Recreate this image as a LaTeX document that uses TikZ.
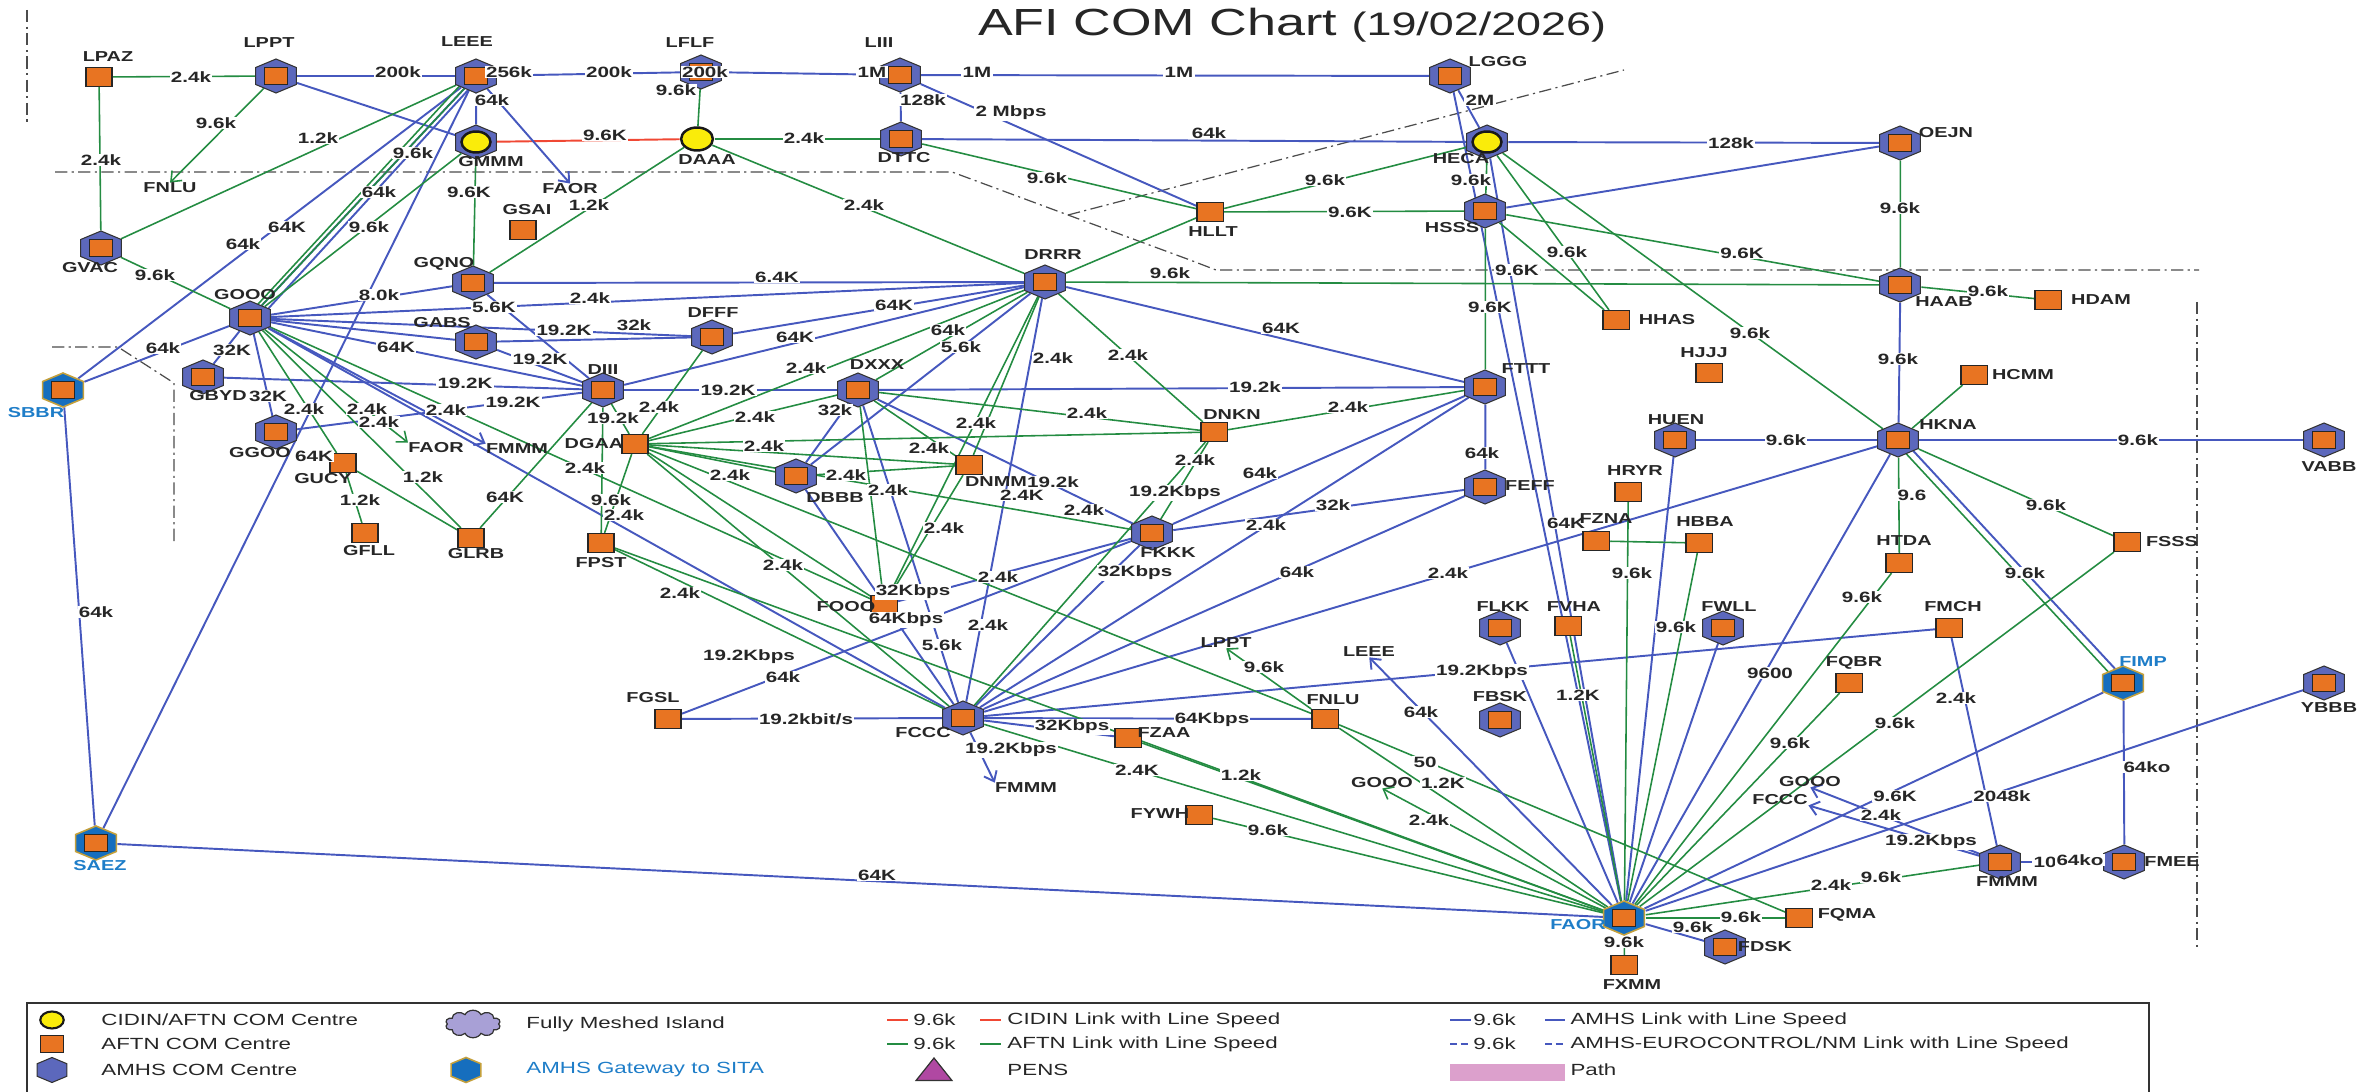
\documentclass[tikz,border=0pt]{standalone}
\usepackage{fontspec}
\setmainfont{Liberation Sans}
\usetikzlibrary{shapes.geometric,shapes.symbols,arrows.meta}

\definecolor{amhsblue}{RGB}{70,88,190}
\definecolor{aftngreen}{RGB}{36,140,66}
\definecolor{cidinred}{RGB}{240,72,52}
\definecolor{hexfill}{RGB}{92,104,188}
\definecolor{sqfill}{RGB}{232,116,34}
\definecolor{gwfill}{RGB}{22,110,190}
\definecolor{gwedge}{RGB}{196,160,60}
\definecolor{gwtext}{RGB}{30,125,200}
\definecolor{cidyellow}{RGB}{250,236,10}
\definecolor{penfill}{RGB}{176,72,162}
\definecolor{pathpink}{RGB}{220,160,204}
\definecolor{cloudfill}{RGB}{168,160,214}

\pgfdeclarelayer{bg}
\pgfsetlayers{bg,main}

% line speed labels get their own names
\newcounter{spdn}
\newcommand\spd[2]{\stepcounter{spdn}\node[spdlbl] (spd\arabic{spdn}) at (#1) {#2};}
% com centres
\newcommand\amhsc[2]{\node[hexc] (#1) at (#2) {};\node[insq] (#1-sq) at (#2) {};}
\newcommand\gwc[2]{\node[gwhex] (#1) at (#2) {};\node[insq] (#1-sq) at (#2) {};}
\newcommand\aftnc[2]{\node[sqc] (#1) at (#2) {};}
\newcommand\cidc[2]{\node[cidcirc] (#1) at (#2) {};}
\newcommand\cidhex[2]{\node[hexc] (#1) at (#2) {};\node[cidcirc,minimum size=0.42cm] (#1-ci) at (#2) {};}
\newcommand\ctrname[3][black!85]{\node[stname,text=#1] (t#2) at (#3) {#2};}

\begin{document}
\begin{tikzpicture}[x=0.0145cm, y=-0.02cm, xscale=1.38, transform shape,
  hexc/.style={regular polygon, regular polygon sides=6, shape border rotate=30,
    minimum size=0.68cm, inner sep=0pt, fill=hexfill, draw=black!80, line width=0.6pt},
  gwhex/.style={hexc, fill=gwfill, draw=gwedge, line width=0.9pt},
  insq/.style={rectangle, minimum size=0.34cm, inner sep=0pt, fill=sqfill, draw=black!85, line width=0.7pt},
  sqc/.style={rectangle, minimum size=0.38cm, inner sep=0pt, fill=sqfill, draw=black!85, line width=0.7pt},
  cidcirc/.style={circle, minimum size=0.46cm, inner sep=0pt, fill=cidyellow, draw=black!90, line width=1.4pt},
  amhsl/.style={amhsblue, line width=1.1pt},
  aftnl/.style={aftngreen, line width=0.9pt},
  cidinl/.style={cidinred, line width=1.1pt},
  spdarrow/.style={-{Straight Barb[length=5pt,width=8pt]}},
  bnd/.style={black!70, line width=0.7pt, dash pattern=on 7pt off 2.5pt on 1.2pt off 2.5pt},
  spdlbl/.style={font=\fontsize{8.5}{9}\selectfont\bfseries, text=black!85, fill=white, inner sep=0.5pt},
  stname/.style={font=\fontsize{8.2}{9}\selectfont\bfseries, inner sep=0pt},
  lgtxt/.style={anchor=west, font=\fontsize{9.2}{11}\selectfont, text=black!85, inner sep=0pt}]
		%%%%% START %%%%%
		\useasboundingbox (0,0) rectangle (2374,1092);
		
		\node[font=\fontsize{21.5}{24}\selectfont, text=black!85, inner sep=0pt] (title) at (1292,25)
		  {AFI COM Chart {\fontsize{18.5}{20}\selectfont(19/02/2026)}};
		
		% top row
		\aftnc{LPAZ}{99,77} \amhsc{LPPT}{276,76} \amhsc{LEEE}{476,76} \amhsc{LFLF}{701,72}
		\amhsc{LIII}{900,75} \amhsc{LGGG}{1450,76}
		\cidhex{GMMM}{476,142} \cidc{DAAA}{697,139} \amhsc{DTTC}{901,139}
		\cidhex{HECA}{1487,142} \amhsc{OEJN}{1900,143}
		
		% west
		\aftnc{GSAI}{523,230} \amhsc{GVAC}{101,248} \amhsc{GQNO}{473,283} \amhsc{GOOO}{250,318}
		\amhsc{GABS}{476,342} \amhsc{GBYD}{203,377} \gwc{SBBR}{63,390} \amhsc{GGOO}{276,432}
		\aftnc{GUCY}{343,463} \aftnc{GFLL}{365,533} \aftnc{GLRB}{471,538} \gwc{SAEZ}{96,843}
		
		% centre
		\amhsc{DRRR}{1045,282} \amhsc{DFFF}{712,337} \amhsc{DIII}{603,390} \amhsc{DXXX}{858,390}
		\aftnc{DGAA}{635,444} \aftnc{DNMM}{969,465} \amhsc{DBBB}{796,476} \aftnc{DNKN}{1214,432}
		\aftnc{FPST}{601,543} \amhsc{FKKK}{1152,533} \aftnc{FOOO}{884,605} \aftnc{FGSL}{668,719}
		\amhsc{FCCC}{963,718} \aftnc{FZAA}{1128,738} \aftnc{FYWH}{1199,815}
		
		% east
		\aftnc{HLLT}{1210,212} \amhsc{HSSS}{1485,211} \amhsc{HAAB}{1900,285} \aftnc{HDAM}{2048,300}
		\aftnc{HHAS}{1616,320} \aftnc{HJJJ}{1709,373} \aftnc{HCMM}{1974,375} \amhsc{FTTT}{1485,387}
		\amhsc{HUEN}{1675,440} \amhsc{HKNA}{1898,440} \amhsc{VABB}{2324,440} \amhsc{FEFF}{1485,487}
		\aftnc{HRYR}{1628,492} \aftnc{FZNA}{1596,541} \aftnc{HBBA}{1699,543} \aftnc{FSSS}{2127,542}
		\aftnc{HTDA}{1899,563} \amhsc{FLKK}{1500,628} \aftnc{FVHA}{1568,626} \amhsc{FWLL}{1723,628}
		\aftnc{FMCH}{1949,628} \aftnc{FQBR}{1849,683} \gwc{FIMP}{2123,683} \amhsc{YBBB}{2324,683}
		\aftnc{FNLU}{1325,719} \amhsc{FBSK}{1500,720} \amhsc{FMMM}{2000,862} \amhsc{FMEE}{2124,862}
		\gwc{FAOR}{1624,918} \aftnc{FQMA}{1799,918} \amhsc{FDSK}{1725,947} \aftnc{FXMM}{1624,965}
		
		% arrow targets
		\node[stname,text=black!85] (aFNLU) at (170,188) {FNLU};
		\node[stname,text=black!85] (aFAORa) at (570,189) {FAOR};
		\node[stname,text=black!85] (aFAORb) at (436,448) {FAOR};
		\node[stname,text=black!85] (aFMMMa) at (517,449) {FMMM};
		\node[stname,text=black!85] (aLPPT) at (1226,643) {LPPT};
		\node[stname,text=black!85] (aLEEE) at (1369,652) {LEEE};
		\node[stname,text=black!85] (aFMMMb) at (1026,788) {FMMM};
		\node[stname,text=black!85] (aGOOOa) at (1382,783) {GOOO};
		\node[stname,text=black!85] (aGOOOb) at (1810,782) {GOOO};
		\node[stname,text=black!85] (aFCCC) at (1780,800) {FCCC};
		
		\begin{pgfonlayer}{bg}
		% region boundaries
		\draw[bnd] (27,10) -- (27,123);
		\draw[bnd] (55,172) -- (952,172) -- (1068,215) -- (1190,260) -- (1216,270) -- (2199,270);
		\draw[bnd] (1068,215) -- (1624,70);
		\draw[bnd] (2197,302) -- (2197,950);
		\draw[bnd] (52,347) -- (118,347) -- (174,383) -- (174,543);
		
		% AMHS links
		\foreach \a/\b in {LPPT/LEEE, LEEE/LFLF, LFLF/LIII, LIII/LGGG, LIII/DTTC, LIII/HLLT,
		  LPPT/GMMM, LEEE/GMMM, DTTC/HECA, HECA/OEJN, HSSS/OEJN, LGGG/HECA, LGGG/FAOR, HECA/FAOR,
		  LEEE/SBBR, LEEE/GOOO, LEEE/SAEZ, GOOO/SBBR, GOOO/GBYD, GOOO/GQNO, GOOO/DRRR, GOOO/DIII,
		  GOOO/GABS, GOOO/GGOO, GOOO/FCCC, GOOO/DFFF, GBYD/DIII, GGOO/DIII, GQNO/DRRR, GQNO/DIII,
		  GABS/DIII, GABS/DFFF, DRRR/DFFF, DRRR/DIII, DRRR/DBBB, DRRR/FCCC, DRRR/FTTT, DIII/DXXX,
		  DXXX/FTTT, DXXX/FKKK, DXXX/FCCC, DXXX/DBBB, DBBB/FCCC, FGSL/FKKK, FGSL/FCCC, FKKK/FCCC,
		  FKKK/FEFF, FKKK/FTTT, FKKK/FOOO, FCCC/FEFF, FCCC/FTTT, FCCC/HKNA, FCCC/FMCH, FCCC/FNLU,
		  FCCC/FZAA, FTTT/FEFF, HUEN/HKNA, HUEN/FAOR, HKNA/VABB, HKNA/HAAB, HKNA/FAOR, FLKK/FAOR,
		  FWLL/FAOR, FAOR/FIMP, FAOR/YBBB, FAOR/FDSK, SAEZ/FAOR, SBBR/SAEZ, FMCH/FMMM, FMMM/FMEE,
		  FIMP/FMEE}
		  \draw[amhsl] (\a) -- (\b);
		\draw[amhsl] ([xshift=2pt]LEEE.center) -- ([xshift=4pt]GOOO.center);
		\draw[amhsl] ([xshift=2pt]HKNA.center) -- ([xshift=2pt]FIMP.center);
		
		% AFTN links
		\foreach \a/\b in {LPAZ/LPPT, LPAZ/GVAC, LFLF/DAAA, DAAA/DTTC, DAAA/DRRR, DAAA/GQNO,
		  GMMM/GQNO, LEEE/GVAC, LEEE/GOOO, GMMM/GOOO, GVAC/GOOO, DTTC/HLLT, DRRR/HLLT, HLLT/HECA,
		  HLLT/HSSS, HECA/HSSS, HSSS/HAAB, HECA/HKNA, HECA/HHAS, HSSS/HHAS, HSSS/FTTT, DRRR/HAAB,
		  OEJN/HAAB, HAAB/HDAM, HKNA/HCMM, HKNA/HTDA, HKNA/FSSS, HTDA/FAOR, FSSS/FAOR, FQBR/FAOR,
		  HRYR/FAOR, FZNA/HBBA, HBBA/FAOR, FVHA/FAOR, FAOR/FXMM, FAOR/FQMA, FAOR/FMMM, FNLU/FAOR,
		  FNLU/FQMA, FYWH/FAOR, FCCC/FAOR, FPST/FAOR, FPST/FCCC, FZAA/FAOR, GOOO/GUCY, GOOO/GLRB,
		  GOOO/FOOO, GUCY/GFLL, GUCY/GLRB, DIII/GLRB, DIII/DGAA, DFFF/DGAA, DRRR/DGAA, DXXX/DGAA,
		  DGAA/DNKN, DGAA/DBBB, DGAA/DNMM, DGAA/FPST, DIII/FPST, DGAA/FOOO, DGAA/FCCC, DGAA/FKKK,
		  DGAA/FNLU, DXXX/DNKN, DRRR/DNMM, DXXX/DNMM, DBBB/DNMM, DXXX/FOOO, DNKN/FTTT, DNKN/FCCC,
		  DNKN/FKKK, DNMM/FOOO, DRRR/DXXX, DRRR/FOOO, DRRR/DNKN}
		  \draw[aftnl] (\a) -- (\b);
		\draw[aftnl] ([xshift=-3pt]LEEE.center) -- ([xshift=-2pt]GOOO.center);
		\draw[aftnl] ([xshift=-2pt]HKNA.center) -- ([xshift=-2pt]FIMP.center);
		
		% CIDIN link
		\draw[cidinl] (GMMM) -- (DAAA);
		
		% one way links
		\draw[aftnl,spdarrow] (LPPT) -- (aFNLU.north);
		\draw[amhsl,spdarrow] (LEEE) -- (aFAORa.north);
		\draw[aftnl,spdarrow] (GOOO) -- (aFAORb.north west);
		\draw[amhsl,spdarrow] (GOOO) -- (aFMMMa.north west);
		\draw[aftnl,spdarrow] (FNLU) -- (aLPPT.south);
		\draw[amhsl,spdarrow] (FAOR) -- (aLEEE.south);
		\draw[amhsl,spdarrow] (FCCC) -- (aFMMMb.north west);
		\draw[aftnl,spdarrow] (FAOR) -- (aGOOOa.south);
		\draw[amhsl,spdarrow] (FMMM) -- (aGOOOb.south);
		\draw[amhsl,spdarrow] (FMMM) -- (aFCCC.south east);
		\end{pgfonlayer}
		
		% line speeds, AMHS
		\spd{398,72}{200k} \spd{509,72}{256k} \spd{609,72}{200k} \spd{705,72}{200k}
		\spd{872,72}{1M} \spd{977,72}{1M} \spd{1179,72}{1M} \spd{923,100}{128k}
		\spd{1011,113}{2 Mbps} \spd{492,100}{64k} \spd{1209,133}{64k} \spd{1731,143}{128k}
		\spd{1480,100}{2M} \spd{287,227}{64K} \spd{243,244}{64k} \spd{379,192}{64k}
		\spd{314,456}{64K} \spd{163,348}{64k} \spd{232,350}{32K} \spd{379,295}{8.0k}
		\spd{590,298}{2.4k} \spd{396,347}{64K} \spd{446,410}{2.4k} \spd{465,383}{19.2K}
		\spd{268,396}{32K} \spd{379,422}{2.4k} \spd{513,402}{19.2K} \spd{777,277}{6.4K}
		\spd{494,307}{5.6K} \spd{564,330}{19.2K} \spd{634,325}{32k} \spd{540,359}{19.2K}
		\spd{894,305}{64K} \spd{795,337}{64K} \spd{961,347}{5.6k} \spd{1053,358}{2.4k}
		\spd{988,625}{2.4k} \spd{1281,328}{64K} \spd{728,390}{19.2K} \spd{1255,387}{19.2k}
		\spd{1053,482}{19.2k} \spd{942,645}{5.6k} \spd{835,410}{32k} \spd{783,677}{64k}
		\spd{749,657}{19.2Kbps} \spd{906,620}{64Kbps} \spd{806,719}{19.2kbit/s} \spd{1135,573}{32Kbps}
		\spd{1333,505}{32k} \spd{1260,473}{64k} \spd{913,592}{32Kbps} \spd{998,577}{2.4k}
		\spd{1297,572}{64k} \spd{1266,525}{2.4k} \spd{1448,573}{2.4k} \spd{1566,523}{64K}
		\spd{1482,672}{19.2Kbps} \spd{1212,720}{64Kbps} \spd{1072,727}{32Kbps} \spd{1011,750}{19.2Kbps}
		\spd{1482,453}{64k} \spd{1786,440}{9.6k} \spd{2138,440}{9.6k} \spd{1898,359}{9.6k}
		\spd{1770,673}{9600} \spd{1421,712}{64k} \spd{1895,796}{9.6K} \spd{2002,796}{2048k}
		\spd{1693,927}{9.6k} \spd{877,875}{64K} \spd{96,612}{64k} \spd{1956,698}{2.4k}
		\spd{1881,815}{2.4k} \spd{1931,842}{19.2Kbps} \spd{2045,862}{10} \spd{2080,860}{64ko}
		\spd{2147,767}{64ko}
		
		% line speeds, AFTN and CIDIN
		\spd{191,77}{2.4k} \spd{101,160}{2.4k} \spd{216,123}{9.6k} \spd{676,90}{9.6k}
		\spd{804,138}{2.4k} \spd{864,205}{2.4k} \spd{589,205}{1.2k} \spd{469,192}{9.6K}
		\spd{318,138}{1.2k} \spd{413,153}{9.6k} \spd{369,227}{9.6k} \spd{155,275}{9.6k}
		\spd{1047,178}{9.6k} \spd{1325,180}{9.6k} \spd{1350,212}{9.6K} \spd{1471,180}{9.6k}
		\spd{1742,253}{9.6K} \spd{1750,333}{9.6k} \spd{1567,252}{9.6k} \spd{1490,307}{9.6K}
		\spd{1170,273}{9.6k} \spd{1517,270}{9.6K} \spd{1900,208}{9.6k} \spd{1988,291}{9.6k}
		\spd{1912,495}{9.6} \spd{2046,505}{9.6k} \spd{2025,573}{9.6k} \spd{1862,597}{9.6k}
		\spd{1895,723}{9.6k} \spd{1790,743}{9.6k} \spd{1632,573}{9.6k} \spd{1676,627}{9.6k}
		\spd{1578,695}{1.2K} \spd{1624,942}{9.6k} \spd{1741,917}{9.6k} \spd{1831,885}{2.4k}
		\spd{1881,877}{9.6k} \spd{1443,783}{1.2K} \spd{1425,762}{50} \spd{1264,667}{9.6k}
		\spd{1429,820}{2.4k} \spd{1268,830}{9.6k} \spd{1137,770}{2.4K} \spd{1241,775}{1.2k}
		\spd{680,593}{2.4k} \spd{304,409}{2.4k} \spd{367,409}{2.4k} \spd{423,477}{1.2k}
		\spd{585,468}{2.4k} \spd{783,565}{2.4k} \spd{360,500}{1.2k} \spd{505,497}{64K}
		\spd{613,418}{19.2k} \spd{659,407}{2.4k} \spd{806,368}{2.4k} \spd{755,417}{2.4k}
		\spd{764,446}{2.4k} \spd{730,475}{2.4k} \spd{929,448}{2.4k} \spd{1087,413}{2.4k}
		\spd{976,423}{2.4k} \spd{846,475}{2.4k} \spd{888,490}{2.4k} \spd{611,500}{9.6k}
		\spd{624,515}{2.4k} \spd{944,528}{2.4k} \spd{1022,495}{2.4K} \spd{1084,510}{2.4k}
		\spd{1348,407}{2.4k} \spd{1195,460}{2.4k} \spd{1175,493}{19.2Kbps} \spd{948,330}{64k}
		\spd{1128,355}{2.4k} \spd{605,135}{9.6K}
		
		% centre names
		\ctrname{LPAZ}{108,57} \ctrname{LPPT}{269,43} \ctrname{LEEE}{467,42} \ctrname{LFLF}{690,43}
		\ctrname{LIII}{879,43} \ctrname{LGGG}{1498,62} \ctrname{GMMM}{491,162} \ctrname{DAAA}{707,160}
		\ctrname{DTTC}{904,158} \ctrname{HECA}{1461,159} \ctrname{OEJN}{1946,133} \ctrname{GSAI}{527,210}
		\ctrname{GVAC}{90,268} \ctrname{HLLT}{1213,232} \ctrname{HSSS}{1452,228} \ctrname{GQNO}{444,264}
		\ctrname{DRRR}{1053,255} \ctrname{HAAB}{1944,302} \ctrname{HDAM}{2101,300} \ctrname{GOOO}{245,295}
		\ctrname{HHAS}{1667,320} \ctrname{GABS}{442,323} \ctrname{DFFF}{713,313} \ctrname{HJJJ}{1704,353}
		\ctrname{HCMM}{2023,375} \ctrname{GBYD}{218,396} \ctrname[gwtext]{SBBR}{36,413}
		\ctrname{DIII}{603,370} \ctrname{DXXX}{877,365} \ctrname{FTTT}{1526,369} \ctrname{GGOO}{260,453}
		\ctrname{DNKN}{1232,415} \ctrname{HUEN}{1676,420} \ctrname{HKNA}{1948,425} \ctrname{VABB}{2329,467}
		\ctrname{DGAA}{594,444} \ctrname{GUCY}{323,479} \ctrname{DNMM}{996,482} \ctrname{DBBB}{835,498}
		\ctrname{FEFF}{1530,486} \ctrname{HRYR}{1635,471} \ctrname{GFLL}{369,551} \ctrname{FKKK}{1168,553}
		\ctrname{GLRB}{476,554} \ctrname{FPST}{601,563} \ctrname{FZNA}{1606,519} \ctrname{HBBA}{1705,522}
		\ctrname{FSSS}{2172,542} \ctrname{HTDA}{1904,541} \ctrname{FOOO}{846,607} \ctrname{FLKK}{1503,607}
		\ctrname{FVHA}{1574,607} \ctrname{FWLL}{1729,607} \ctrname{FMCH}{1953,607} \ctrname{FQBR}{1854,663}
		\ctrname[gwtext]{FIMP}{2143,662} \ctrname{YBBB}{2329,708} \ctrname{FGSL}{653,698}
		\ctrname{FCCC}{923,733} \ctrname{FNLU}{1333,700} \ctrname{FBSK}{1500,697} \ctrname{FZAA}{1164,733}
		\ctrname{FYWH}{1160,814} \ctrname[gwtext]{SAEZ}{100,866} \ctrname{FMMM}{2007,882}
		\ctrname{FMEE}{2172,862} \ctrname[gwtext]{FAOR}{1578,925} \ctrname{FQMA}{1847,915}
		\ctrname{FDSK}{1765,947} \ctrname{FXMM}{1632,985}
		
		% legend
		\draw[black!80, line width=0.9pt] (27,1092) -- (27,1003) -- (2149,1003) -- (2149,1092);
		\node[cidcirc, minimum size=0.34cm, line width=1.2pt] (lgCid) at (52,1020) {};
		\node[lgtxt] (lgCidT) at (101,1020) {CIDIN/AFTN COM Centre};
		\node[sqc, minimum size=0.34cm] (lgAftn) at (52,1044) {};
		\node[lgtxt] (lgAftnT) at (101,1044) {AFTN COM Centre};
		\node[hexc, minimum size=0.5cm] (lgAmhs) at (52,1070) {};
		\node[lgtxt] (lgAmhsT) at (101,1070) {AMHS COM Centre};
		\node[cloud, cloud puffs=10, aspect=1.6, minimum width=0.8cm, minimum height=0.55cm,
		  inner sep=0pt, fill=cloudfill, draw=black!80, line width=0.7pt] (lgIsl) at (473,1024) {};
		\node[lgtxt] (lgIslT) at (526,1024) {Fully Meshed Island};
		\node[gwhex, minimum size=0.5cm] (lgGw) at (466,1070) {};
		\node[lgtxt, text=gwtext] (lgGwT) at (526,1070) {AMHS Gateway to SITA};
		
		\draw[cidinl, line width=0.8pt] (887,1020) -- (908,1020);
		\node[lgtxt] (lgR1) at (913,1020) {9.6k};
		\draw[cidinl, line width=0.8pt] (980,1020) -- (1001,1020);
		\node[lgtxt] (lgR2) at (1007,1020) {CIDIN Link with Line Speed};
		\draw[aftnl, line width=0.8pt] (887,1044) -- (908,1044);
		\node[lgtxt] (lgG1) at (913,1044) {9.6k};
		\draw[aftnl, line width=0.8pt] (980,1044) -- (1001,1044);
		\node[lgtxt] (lgG2) at (1007,1044) {AFTN Link with Line Speed};
		\node[regular polygon, regular polygon sides=3, minimum size=0.6cm, inner sep=0pt,
		  fill=penfill, draw=black!80, line width=0.7pt] (lgPens) at (934,1073) {};
		\node[lgtxt] (lgPensT) at (1007,1070) {PENS};
		
		\draw[amhsl, line width=0.8pt] (1450,1020) -- (1471,1020);
		\node[lgtxt] (lgB1) at (1473,1020) {9.6k};
		\draw[amhsl, line width=0.8pt] (1545,1020) -- (1565,1020);
		\node[lgtxt] (lgB2) at (1570,1020) {AMHS Link with Line Speed};
		\draw[amhsl, line width=0.8pt, dash pattern=on 4pt off 2pt] (1450,1044) -- (1471,1044);
		\node[lgtxt] (lgE1) at (1473,1044) {9.6k};
		\draw[amhsl, line width=0.8pt, dash pattern=on 4pt off 2pt] (1545,1044) -- (1565,1044);
		\node[lgtxt] (lgE2) at (1570,1044) {AMHS-EUROCONTROL/NM Link with Line Speed};
		\fill[pathpink] (1450,1064) rectangle (1565,1081);
		\node[lgtxt] (lgPathT) at (1570,1070) {Path};
		%%%%% END %%%%%
\end{tikzpicture}
\end{document}
